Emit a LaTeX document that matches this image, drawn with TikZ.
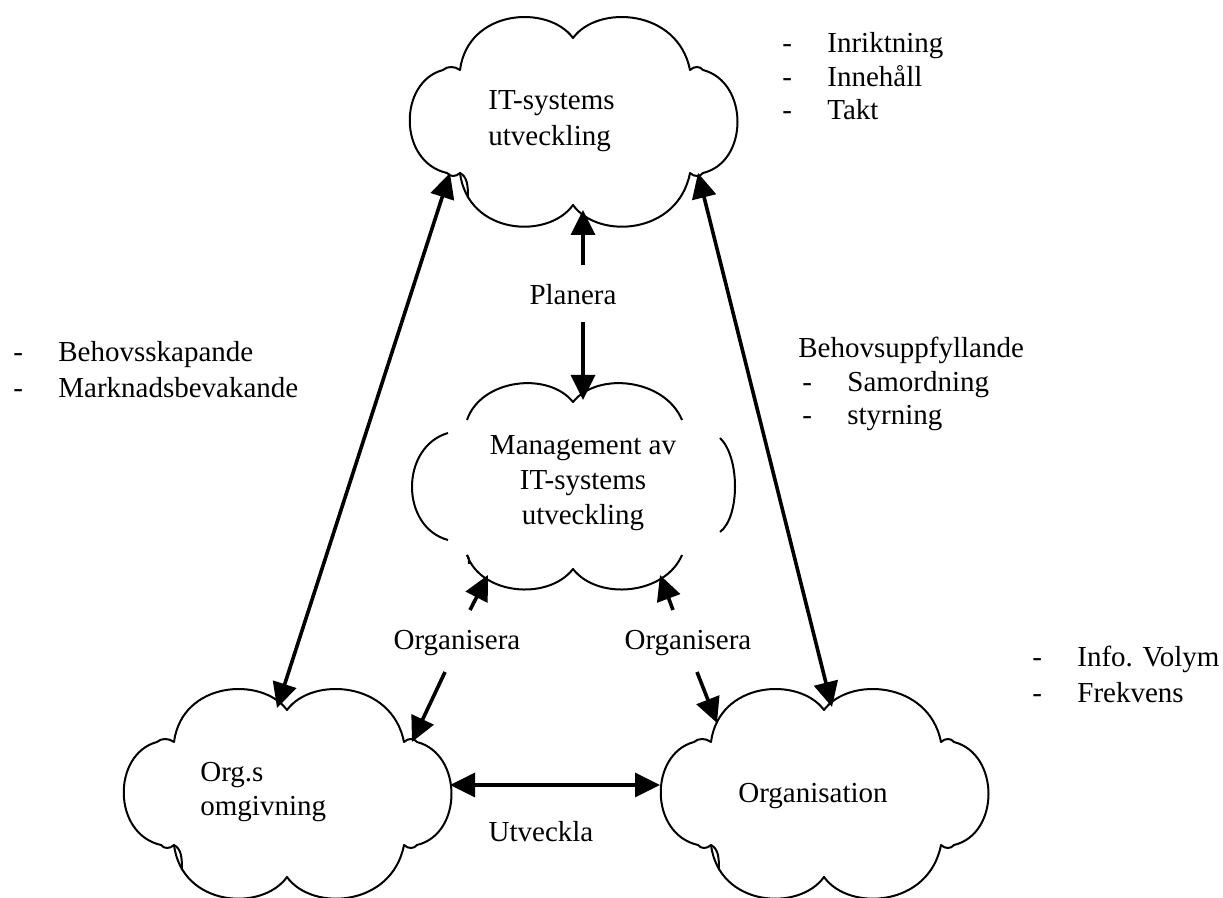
\documentclass[tikz,border=0pt]{standalone}
\usepackage{fontspec}
\setmainfont{Liberation Serif}
\usetikzlibrary{arrows.meta}

\tikzset{
  cloudline/.style={line width=1pt, line join=round},
  tip/.style={Triangle[length=12.5pt,width=12pt]},
  link/.style={line width=1.8pt, -{Triangle[length=12.5pt,width=12pt]}},
  bilink/.style={line width=1.8pt, {Triangle[length=12.5pt,width=12pt]}-{Triangle[length=12.5pt,width=12pt]}},
  ltxt/.style={inner sep=0pt, anchor=base west},
  ctxt/.style={inner sep=0pt, anchor=base},
  % closed cloud outline with the small inner stub at its lower left
  pics/puffcloud/.style={code={
    \draw[cloudline] (-113,-52)
      .. controls (-105,-113) and (-25,-118) .. (0,-84)
      .. controls (25,-118) and (105,-113) .. (117,-52)
      .. controls (121,-56) and (127,-56) .. (130,-52)
      .. controls (176,-40) and (176,40) .. (130,51)
      .. controls (127,55) and (121,55) .. (117,51)
      .. controls (105,113) and (25,118) .. (0,83)
      .. controls (-25,118) and (-105,113) .. (-113,51)
      .. controls (-117,55) and (-123,55) .. (-126,51)
      .. controls (-175,40) and (-175,-40) .. (-130,-52)
      .. controls (-126,-56) and (-118,-56) .. (-113,-52) -- cycle;
    \draw[cloudline] (-113,51) .. controls (-106,55) and (-105,62) .. (-105,76);
  }}
}
\newcommand{\dashitem}[1]{\makebox[22.5pt][l]{-}#1}

\begin{document}
\begin{tikzpicture}[x=0.5pt,y=-0.5pt,font=\fontsize{14.5pt}{17.5pt}\selectfont]
\clip (0,0) rectangle (1223,898);
\fill[white] (0,0) rectangle (1223,898);

% clouds
\pic at (573,122) {puffcloud};
\pic at (287,794) {puffcloud};
\pic at (824,794) {puffcloud};
\begin{scope}[shift={(573,487)}]
  \draw[cloudline] (-106,-67) .. controls (-92,-108) and (-25,-116) .. (0,-85)
                    .. controls (25,-116) and (92,-108) .. (109,-67);
  \draw[cloudline] (-125,-54) .. controls (-173,-40) and (-173,40) .. (-125,53);
  \draw[cloudline] (147,-49) .. controls (167,-30) and (167,30) .. (147,45);
  \draw[cloudline] (-106,68) .. controls (-92,108) and (-25,114) .. (0,82)
                    .. controls (25,114) and (92,108) .. (109,68);
  \draw[cloudline] (-106,68) .. controls (-104,71) .. (-104,77);
\end{scope}

% cloud texts
\node[ltxt] (itdev) at (488,110)
  {\fontsize{14.5pt}{18pt}\selectfont\begin{tabular}[t]{@{}l@{}}IT-systems\\utveckling\end{tabular}};
\node[ctxt] (mgmt) at (583,455)
  {\begin{tabular}[t]{@{}c@{}}Management av\\IT-systems\\utveckling\end{tabular}};
\node[ltxt] (orgs) at (200,782)
  {\fontsize{14.5pt}{16.75pt}\selectfont\begin{tabular}[t]{@{}l@{}}Org.s\\omgivning\end{tabular}};
\node[ctxt] (org) at (813,803) {Organisation};

% side lists
\node[ltxt] (listit) at (782,53)
  {\fontsize{14.5pt}{16.75pt}\selectfont\begin{tabular}[t]{@{}l@{}}\dashitem{Inriktning}\\\dashitem{Innehåll}\\\dashitem{Takt}\end{tabular}};
\node[ltxt] (listleft) at (13,362)
  {\fontsize{14.5pt}{17.75pt}\selectfont\begin{tabular}[t]{@{}l@{}}\dashitem{Behovsskapande}\\\dashitem{Marknadsbevakande}\end{tabular}};
\node[ltxt] (listright) at (798,358)
  {\fontsize{14.5pt}{16.75pt}\selectfont\begin{tabular}[t]{@{}l@{}}Behovsuppfyllande\\\hspace{2pt}\dashitem{Samordning}\\\hspace{2pt}\dashitem{styrning}\end{tabular}};
\node[ltxt] (listorg) at (1032,667)
  {\fontsize{14.5pt}{18pt}\selectfont\begin{tabular}[t]{@{}l@{}}\dashitem{Info. Volym}\\\dashitem{Frekvens}\end{tabular}};

% connector labels
\node[ctxt] (planera) at (573,305) {Planera};
\node[ctxt] (orgL) at (457,650) {Organisera};
\node[ctxt] (orgR) at (688,650) {Organisera};
\node[ctxt] (utv) at (541,842) {Utveckla};

% connector end points
\coordinate (itL) at (450,173);
\coordinate (itR) at (698,173);
\coordinate (itB) at (583,210);
\coordinate (mgT) at (583,400);
\coordinate (mgBL) at (488,575);
\coordinate (mgBR) at (660,575);
\coordinate (osT) at (277,708);
\coordinate (osTR) at (412,742);
\coordinate (osR) at (450,785);
\coordinate (ogT) at (832,707);
\coordinate (ogTL) at (717,723);
\coordinate (ogL) at (660,785);
\coordinate (plU) at (583,265);
\coordinate (plD) at (583,322);
\coordinate (oLU) at (470,610);
\coordinate (oLD) at (445,672);
\coordinate (oRU) at (673,610);
\coordinate (oRD) at (697,672);

% connectors
\draw[bilink] (itL) -- (osT);
\draw[bilink] (itR) -- (ogT);
\draw[link] (plU) -- (itB);
\draw[link] (plD) -- (mgT);
\draw[link] (oLU) -- (mgBL);
\draw[link] (oLD) -- (osTR);
\draw[link] (oRU) -- (mgBR);
\draw[link] (oRD) -- (ogTL);
\draw[bilink] (osR) -- (ogL);
\end{tikzpicture}
\end{document}
